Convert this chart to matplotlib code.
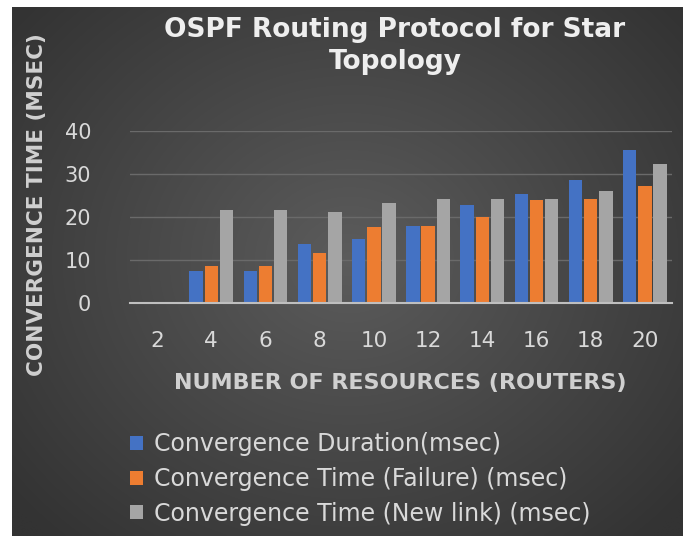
import numpy as np
import matplotlib
matplotlib.use("Agg")
import matplotlib.pyplot as plt

categories = ["2", "4", "6", "8", "10", "12", "14", "16", "18", "20"]
duration = [0, 7.4, 7.4, 13.8, 14.9, 18.0, 22.9, 25.4, 28.7, 35.5]
failure = [0, 8.5, 8.5, 11.6, 17.6, 18.0, 20.1, 23.9, 24.3, 27.1]
new_link = [0, 21.7, 21.7, 21.2, 23.3, 24.3, 24.3, 24.3, 26.0, 32.3]
series_names = ["Convergence Duration(msec)",
                "Convergence Time (Failure) (msec)",
                "Convergence Time (New link) (msec)"]
colors = ["#4472C4", "#ED7D31", "#A5A5A5"]

FONT = "DejaVu Sans"
W, H = 685, 536
fig = plt.figure(figsize=(W / 100, H / 100), dpi=100, facecolor="white")

# background panel with radial gradient
bg = fig.add_axes([12 / W, 0, (683 - 12) / W, 1 - 7 / H])
bg.set_axis_off()
yy, xx = np.mgrid[0:200, 0:200]
r = np.sqrt(((xx - 100) / 100) ** 2 + ((yy - 95) / 110) ** 2)
img = np.clip(1 - r / 1.3, 0, 1)
dark = np.array([0.20, 0.20, 0.20])
light = np.array([0.36, 0.36, 0.36])
rgb = dark[None, None, :] + (light - dark)[None, None, :] * img[:, :, None]
bg.imshow(rgb, aspect="auto", extent=[0, 1, 0, 1], interpolation="bilinear")
bg.set_xlim(0, 1)
bg.set_ylim(0, 1)

ax = fig.add_axes([130 / W, 1 - 303 / H, (672 - 130) / W, (303 - 131) / H])
ax.patch.set_alpha(0)
x = np.arange(len(categories))
bw = 0.25
off = 0.28
for i, (vals, name, c) in enumerate(zip([duration, failure, new_link], series_names, colors)):
    ax.bar(x + (i - 1) * off, vals, width=bw, color=c, label=name, zorder=3)

ax.set_xlim(-0.5, len(categories) - 0.5)
ax.set_ylim(0, 40)
ax.set_yticks([0, 10, 20, 30, 40])
ax.set_xticks(x)
ax.set_xticklabels(categories)
ax.grid(axis="y", color="#6a6a6a", linewidth=1.0, zorder=0)
for s in ["top", "right", "left"]:
    ax.spines[s].set_visible(False)
ax.spines["bottom"].set_color("#bfbfbf")
ax.spines["bottom"].set_linewidth(1.5)
ax.spines["bottom"].set_zorder(4)
ax.tick_params(axis="both", length=0, colors="#d9d9d9")
ax.tick_params(axis="x", labelsize=15.5, pad=20)
ax.tick_params(axis="y", labelsize=15, pad=28)
for lbl in ax.get_xticklabels() + ax.get_yticklabels():
    lbl.set_family(FONT)

fig.text(395 / W, 1 - 30 / H, "OSPF Routing Protocol for Star", ha="center", va="center",
         fontsize=19, fontweight="bold", color="#eeeeee", family=FONT)
fig.text(395 / W, 1 - 62 / H, "Topology", ha="center", va="center",
         fontsize=19, fontweight="bold", color="#eeeeee", family=FONT)
fig.text(37 / W, 1 - 205 / H, "CONVERGENCE TIME (MSEC)", rotation=90, ha="center", va="center",
         fontsize=15.5, fontweight="bold", color="#d0d0d0", family=FONT)
fig.text(400 / W, 1 - 383 / H, "NUMBER OF RESOURCES (ROUTERS)", ha="center", va="center",
         fontsize=16, fontweight="bold", color="#d0d0d0", family=FONT)

handles, labels = ax.get_legend_handles_labels()
leg = fig.legend(handles, labels, loc="upper left", bbox_to_anchor=(121 / W, 1 - 423 / H),
                 frameon=False, prop={"family": FONT, "size": 17},
                 handlelength=0.55, handleheight=0.55,
                 handletextpad=0.45, labelspacing=0.45, borderaxespad=0)
for t in leg.get_texts():
    t.set_color("#d9d9d9")

fig.savefig("out.png", dpi=100, facecolor="white")
